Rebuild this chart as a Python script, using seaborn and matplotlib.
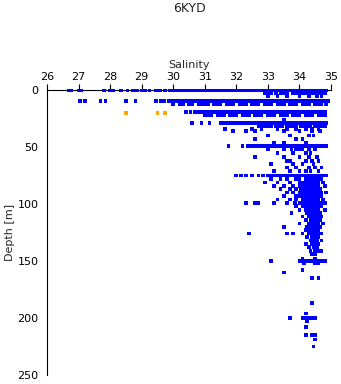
import matplotlib
matplotlib.use("Agg")
import matplotlib.pyplot as plt
import seaborn as sns
import pandas as pd

# ---------------- data ----------------
depth_levels = [0.5, 3, 5, 9.5, 12, 19.5, 22, 26, 29, 31.5, 34, 36, 40, 43, 46, 49, 52, 55,
                59, 62, 65, 68, 71, 75, 78, 81, 84, 87, 90, 93, 96, 99, 102, 105, 108, 111,
                114, 117, 120, 123, 126, 129, 132, 135, 138, 141, 144, 148, 150, 152, 158,
                160, 165, 187, 196, 200, 203, 208, 215, 219, 225]

salinity_rows = [
    [26.7, 26.78, 27.0, 27.08, 27.8, 28.0, 28.1, 28.35, 28.55, 28.72, 28.85, 29.0, 29.12,
     29.25, 29.45, 29.58, 29.75, 29.88, 29.95, 30.05, 30.15, 30.25, 30.35, 30.45, 30.55,
     30.65, 30.75, 30.85, 30.95, 31.05, 31.15, 31.25, 31.35, 31.45, 31.55, 31.65, 31.75,
     31.85, 31.95, 32.05, 32.15, 32.25, 32.35, 32.45, 32.55, 32.65, 32.75, 32.85, 32.95,
     33.05, 33.15, 33.25, 33.35, 33.45, 33.55, 33.65, 33.75, 33.85, 33.95, 34.05, 34.15,
     34.25, 34.35, 34.45, 34.55, 34.65, 34.75, 34.85],
    [32.9, 33.0, 33.1, 33.25, 33.4, 33.5, 33.6, 33.8, 33.9, 34.0, 34.1, 34.2, 34.3, 34.4,
     34.5, 34.6, 34.7, 34.8],
    [33.0, 33.3, 33.6, 34.0, 34.3, 34.55, 34.7],
    [27.05, 27.2, 27.7, 27.85, 28.5, 28.8, 29.45, 29.6, 29.7, 29.85, 29.95, 30.05, 30.15,
     30.25, 30.35, 30.45, 30.55, 30.65, 30.75, 30.85, 30.95, 31.05, 31.15, 31.25, 31.35,
     31.45, 31.55, 31.65, 31.75, 31.85, 31.95, 32.05, 32.15, 32.25, 32.35, 32.45, 32.55,
     32.65, 32.75, 32.85, 32.95, 33.05, 33.15, 33.25, 33.35, 33.45, 33.55, 33.65, 33.75,
     33.85, 33.95, 34.05, 34.15, 34.25, 34.35, 34.45, 34.55, 34.65, 34.75, 34.85, 34.92],
    [30.0, 30.2, 30.3, 30.5, 30.6, 30.8, 30.9, 31.0, 31.1, 31.3, 31.4, 31.5, 31.7, 31.8,
     31.9, 32.1, 32.2, 32.3, 32.5, 32.6, 32.7, 32.9, 33.0, 33.1, 33.3, 33.4, 33.5, 33.7,
     33.8, 33.9, 34.1, 34.2, 34.3, 34.5, 34.6, 34.7, 34.85],
    [30.4, 30.55, 30.7, 30.8, 30.9, 31.0, 31.1, 31.2, 31.3, 31.4, 31.5, 31.6, 31.7, 31.8,
     31.9, 32.0, 32.1, 32.2, 32.3, 32.4, 32.5, 32.6, 32.7, 32.8, 32.9, 33.0, 33.1, 33.2,
     33.3, 33.4, 33.5, 33.6, 33.7, 33.8, 33.9, 34.0, 34.1, 34.2, 34.3, 34.4, 34.5, 34.6,
     34.7, 34.8],
    [31.0, 31.1, 31.2, 31.4, 31.5, 31.6, 31.8, 31.9, 32.0, 32.2, 32.3, 32.4, 32.6, 32.7,
     32.8, 33.0, 33.1, 33.2, 33.4, 33.5, 33.6, 33.8, 33.9, 34.0, 34.2, 34.3, 34.4, 34.6,
     34.7, 34.8],
    [33.5],
    [30.6, 30.9, 31.15, 31.5, 31.6, 31.7, 31.8, 31.9, 32.0, 32.1, 32.2, 32.3, 32.4, 32.5,
     32.6, 32.7, 32.8, 32.9, 33.0, 33.1, 33.2, 33.3, 33.4, 33.5, 33.6, 33.7, 33.8, 33.9,
     34.0, 34.1, 34.2, 34.3, 34.4, 34.5, 34.6, 34.7, 34.8, 34.85],
    [32.7, 32.8, 32.9, 33.0, 33.1, 33.25, 33.35, 33.45, 33.6, 33.7, 33.8, 33.9, 34.05,
     34.15, 34.25, 34.35, 34.5, 34.6, 34.7, 34.8],
    [31.65, 32.5, 32.8, 33.3, 33.6, 33.9, 34.2, 34.4, 34.6],
    [31.9, 32.3, 32.6, 33.5, 34.0, 34.4, 34.65],
    [33.0, 33.7, 34.3, 34.45],
    [32.6, 33.9, 34.1],
    [33.2, 33.5, 34.2],
    [31.75, 32.2, 32.35, 32.45, 32.55, 32.65, 32.75, 32.85, 32.95, 33.05, 33.15, 33.25,
     33.35, 33.45, 33.55, 33.65, 33.75, 33.85, 33.95, 34.05, 34.15, 34.25, 34.35, 34.45,
     34.55, 34.65, 34.75, 34.85],
    [33.0, 33.5, 33.75, 33.9, 34.0, 34.1, 34.3, 34.5],
    [33.3, 33.8, 34.2, 34.35],
    [32.6, 33.5, 34.0, 34.3, 34.55],
    [33.6, 33.7, 34.2, 34.4, 34.6],
    [33.1, 33.8, 34.1, 34.45],
    [33.6, 33.9, 34.3, 34.5, 34.7],
    [33.2, 33.7, 34.0, 34.2, 34.35, 34.6],
    [32.0, 32.15, 32.3, 32.5, 32.7, 32.85, 33.0, 33.1, 33.2, 33.3, 33.4, 33.5, 33.6, 33.7,
     33.8, 33.9, 34.0, 34.1, 34.2, 34.3, 34.4, 34.5, 34.6, 34.7, 34.8, 34.85],
    [33.1, 33.4, 33.6, 33.9, 34.0, 34.2, 34.3, 34.4, 34.5, 34.6, 34.7],
    [32.9, 33.3, 33.7, 34.0, 34.1, 34.2, 34.3, 34.4, 34.5, 34.6, 34.75],
    [33.2, 33.5, 33.8, 34.0, 34.1, 34.2, 34.3, 34.4, 34.5, 34.6, 34.8],
    [33.4, 33.7, 33.9, 34.05, 34.15, 34.25, 34.35, 34.45, 34.55, 34.65],
    [33.6, 33.8, 34.0, 34.1, 34.2, 34.3, 34.4, 34.5, 34.6, 34.7, 34.85],
    [33.5, 33.9, 34.0, 34.1, 34.2, 34.3, 34.4, 34.5, 34.6, 34.7],
    [33.3, 33.7, 33.9, 34.1, 34.2, 34.3, 34.4, 34.5, 34.6, 34.75],
    [32.3, 32.6, 32.7, 33.2, 33.6, 33.85, 34.0, 34.1, 34.2, 34.3, 34.4, 34.5, 34.6, 34.7,
     34.8],
    [33.9, 34.1, 34.2, 34.3, 34.4, 34.5, 34.6, 34.7],
    [34.0, 34.2, 34.3, 34.4, 34.5, 34.6, 34.8],
    [33.75, 34.25, 34.35, 34.45, 34.55, 34.65],
    [34.1, 34.3, 34.4, 34.5, 34.6, 34.7],
    [34.2, 34.35, 34.45, 34.55, 34.65],
    [34.0, 34.3, 34.4, 34.5, 34.6, 34.75],
    [33.5, 34.25, 34.35, 34.45, 34.55, 34.65],
    [34.2, 34.3, 34.4, 34.5, 34.6],
    [32.4, 33.6, 33.8, 34.1, 34.3, 34.4, 34.5, 34.6, 34.7],
    [34.25, 34.4, 34.5, 34.6],
    [34.35, 34.45, 34.55, 34.7],
    [34.2, 34.4, 34.5, 34.6],
    [34.3, 34.45, 34.55],
    [34.35, 34.5, 34.6, 34.7],
    [34.4, 34.5],
    [34.1, 34.5],
    [33.1, 34.0, 34.1, 34.2, 34.3, 34.4, 34.5, 34.6, 34.7, 34.8],
    [34.15, 34.5, 34.6],
    [34.1],
    [33.5],
    [34.4, 34.6],
    [34.4],
    [34.2],
    [33.7, 34.1, 34.2, 34.3, 34.4, 34.5],
    [34.25],
    [34.2],
    [34.2, 34.4, 34.5],
    [34.5],
    [34.45],
]

flag_salinity = [28.5, 29.5, 29.75]
flag_depth = [20, 20, 20]

x_ticks = [26, 27, 28, 29, 30, 31, 32, 33, 34, 35]
y_ticks = [0, 50, 100, 150, 200, 250]

# ---------------- build table ----------------
rows = []
for d, sals in zip(depth_levels, salinity_rows):
    for s in sals:
        rows.append({"Salinity": s, "Depth": d, "Flag": "good"})
for s, d in zip(flag_salinity, flag_depth):
    rows.append({"Salinity": s, "Depth": d, "Flag": "flagged"})
df = pd.DataFrame(rows)

sns.set_style("white")
plt.rcParams["font.family"] = ["DejaVu Sans"]

fig = plt.figure(figsize=(3.41, 3.84), dpi=100)
ax = fig.add_axes([47 / 341, 1 - 375 / 384, (331 - 47) / 341, (375 - 90) / 384])

sns.scatterplot(data=df, x="Salinity", y="Depth", hue="Flag",
                palette={"good": "#0000ff", "flagged": "#ffa500"},
                marker="s", s=7, linewidth=0, legend=False, ax=ax,
                clip_on=False, zorder=3)

ax.set_xlim(26, 35)
ax.set_ylim(250, 0)
ax.set_xticks(x_ticks)
ax.set_yticks(y_ticks)
ax.xaxis.tick_top()
ax.xaxis.set_label_position("top")
ax.set_xlabel("Salinity", fontsize=8, labelpad=3)
ax.set_ylabel("Depth [m]", fontsize=8, labelpad=2)
ax.tick_params(axis="both", direction="out", length=4, width=0.8, labelsize=8,
               colors="black", pad=2)
for side in ["right", "bottom"]:
    ax.spines[side].set_visible(False)
for side in ["left", "top"]:
    ax.spines[side].set_visible(True)
    ax.spines[side].set_color("black")
    ax.spines[side].set_linewidth(0.8)
    ax.spines[side].set_zorder(2)
ax.grid(False)

fig.text(190 / 341, 1 - 9 / 384, "6KYD", ha="center", va="center", fontsize=9)

fig.savefig("out.png", dpi=100)
